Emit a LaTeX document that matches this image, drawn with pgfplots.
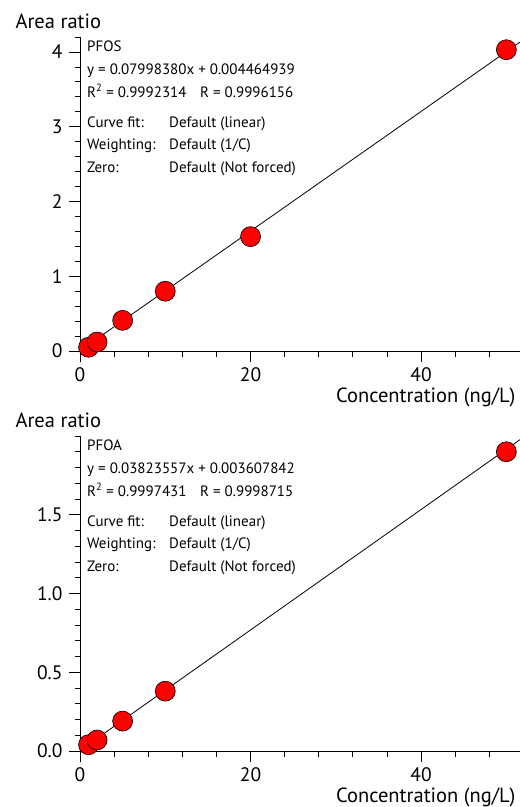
\documentclass[border=0pt]{standalone}
\usepackage{fontspec}
\setmainfont{PT Sans}
\usepackage{pgfplots}
\pgfplotsset{compat=1.18}

\pgfplotsset{
  calib/.style={
    scale only axis, width=440pt,
    xmin=0, xmax=51.6, ymin=0,
    axis x line*=bottom, axis y line*=left,
    axis line style={-, line width=0.8pt},
    tick align=outside,
    major tick length=11pt, minor tick length=5.5pt,
    every tick/.style={black, line width=0.8pt},
    xtick={0,20,40},
    minor xtick={4,8,12,16,24,28,32,36,44,48},
    tick label style={font=\fontsize{19.5}{21}\selectfont},
    xticklabel style={yshift=-2pt},
    yticklabel style={xshift=-3pt},
    /pgf/number format/assume math mode=true,
    clip=false,
    every axis y label/.style={at={(rel axis cs:0,1)}, anchor=base west,
      xshift=-68pt, yshift=9pt, font=\fontsize{20.5}{22}\selectfont},
    every axis x label/.style={at={(rel axis cs:1,0)}, anchor=base east,
      xshift=-1pt, yshift=-51pt, font=\fontsize{20.5}{22}\selectfont},
    ylabel={Area ratio},
    xlabel={Concentration (ng/L)},
  },
  pts/.style={only marks, mark=*, mark size=10pt,
    mark options={fill=red, draw=black, line width=0.6pt}},
  fit/.style={black, line width=0.8pt, no marks},
}

% annotation block: name, equation, R^2, R
\newcommand\fitinfo[4]{%
  \begin{scope}[every node/.style={anchor=base west, inner sep=0pt,
      font=\fontsize{15}{16}\selectfont}]
  \node at ([xshift=7pt,yshift=-14pt]rel axis cs:0,1) {#1};
  \node at ([xshift=7pt,yshift=-37pt]rel axis cs:0,1) {#2};
  \node at ([xshift=7pt,yshift=-60pt]rel axis cs:0,1) {R\textsuperscript{2} = #3};
  \node at ([xshift=120pt,yshift=-60pt]rel axis cs:0,1) {R = #4};
  \node at ([xshift=7pt,yshift=-90pt]rel axis cs:0,1) {Curve fit:};
  \node at ([xshift=89pt,yshift=-90pt]rel axis cs:0,1) {Default (linear)};
  \node at ([xshift=7pt,yshift=-112pt]rel axis cs:0,1) {Weighting:};
  \node at ([xshift=89pt,yshift=-112pt]rel axis cs:0,1) {Default (1/C)};
  \node at ([xshift=7pt,yshift=-135pt]rel axis cs:0,1) {Zero:};
  \node at ([xshift=89pt,yshift=-135pt]rel axis cs:0,1) {Default (Not forced)};
  \end{scope}}

\begin{document}
\begin{tikzpicture}
\useasboundingbox (0,0) rectangle (520pt,-807pt);

% PFOS
\begin{axis}[calib, at={(80pt,-351pt)}, anchor=south west,
  height=314pt, ymax=4.2,
  ytick={0,1,2,3,4},
  minor ytick={0.2,0.4,0.6,0.8,1.2,1.4,1.6,1.8,2.2,2.4,2.6,2.8,3.2,3.4,3.6,3.8,4.2}]
\addplot[pts] coordinates {(1,0.05) (2,0.12) (5,0.41) (10,0.80) (20,1.53) (50,4.03)};
\addplot[fit] coordinates {(0,0.0045) (51.6,4.132)};
\fitinfo{PFOS}{y = 0.07998380x + 0.004464939}{0.9992314}{0.9996156}
\end{axis}

% PFOA
\begin{axis}[calib, at={(80pt,-751pt)}, anchor=south west,
  height=315pt, ymax=2.0,
  ytick={0,0.5,1,1.5},
  minor ytick={0.1,0.2,0.3,0.4,0.6,0.7,0.8,0.9,1.1,1.2,1.3,1.4,1.6,1.7,1.8,1.9,2.0},
  yticklabel style={/pgf/number format/.cd, fixed, fixed zerofill, precision=1}]
\addplot[pts] coordinates {(1,0.04) (2,0.07) (5,0.19) (10,0.38) (50,1.90)};
\addplot[fit] coordinates {(0,0.0036) (51.6,1.977)};
\fitinfo{PFOA}{y = 0.03823557x + 0.003607842}{0.9997431}{0.9998715}
\end{axis}
\end{tikzpicture}
\end{document}
